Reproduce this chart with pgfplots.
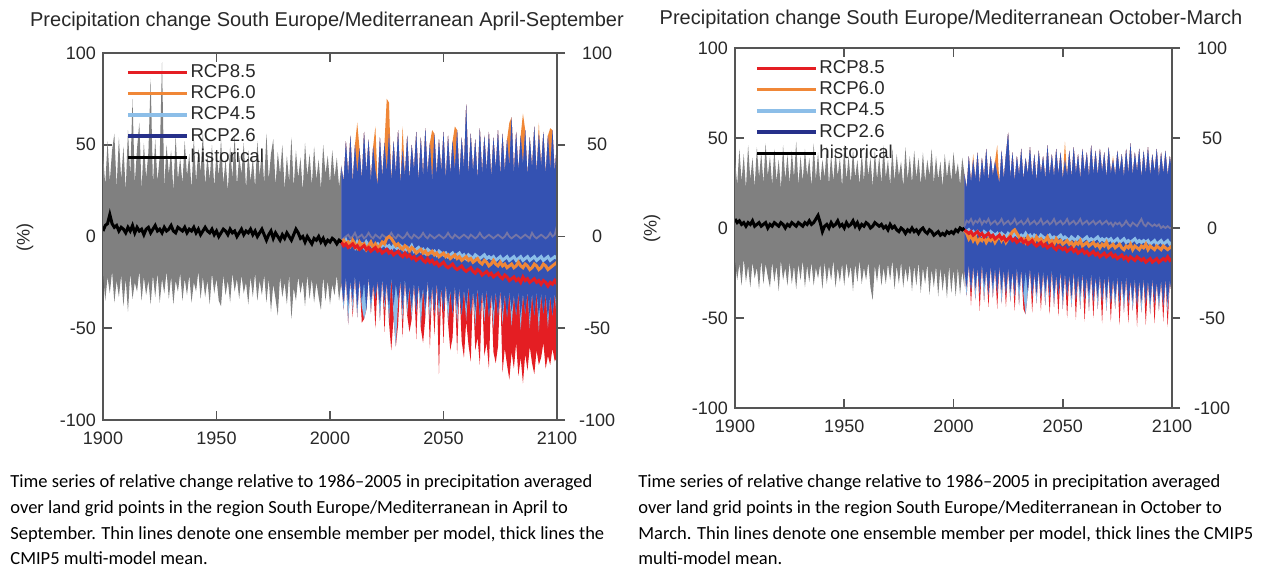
\documentclass[border=0pt]{standalone}
\usepackage{fontspec}
\setmainfont{Liberation Sans}
\newfontfamily\capfont{Carlito}
\usepackage{pgfplots}
\pgfplotsset{compat=1.18}
\usepackage{pgfplotstable}
\usepgfplotslibrary{fillbetween}

\definecolor{hgray}{RGB}{128,128,128}
\definecolor{rcpb}{RGB}{52,82,178}
\definecolor{rcpn}{RGB}{38,48,138}
\definecolor{rcpl}{RGB}{140,190,232}
\definecolor{rcpo}{RGB}{240,135,55}
\definecolor{rcpr}{RGB}{228,30,35}
\definecolor{axg}{RGB}{85,85,85}
\definecolor{txt}{RGB}{40,40,40}
\definecolor{mtf}{RGB}{118,118,165}

% ---------------- April-September (left) ----------------
\pgfplotstableread{
yr up lo m
1900 45 -20 3
1901 28 -35 6
1902 52 -22 7
1903 30 -31 12
1904 47 -19 7
1905 56 -36 5
1906 27 -24 6
1907 54 -33 3
1908 31 -21 5
1909 49 -38 4
1910 25 -23 2
1911 58 -41 5
1912 33 -20 3
1913 75 -34 6
1914 29 -25 2
1915 48 -30 5
1916 62 -19 3
1917 26 -35 4
1918 51 -22 1
1919 32 -32 4
1920 46 -24 5
1921 86 -37 2
1922 28 -21 4
1923 53 -33 6
1924 30 -20 3
1925 44 -36 4
1926 95 -23 2
1927 27 -31 5
1928 50 -19 3
1929 34 -34 4
1930 47 -22 6
1931 25 -37 3
1932 55 -24 2
1933 31 -30 5
1934 43 -20 4
1935 29 -35 3
1936 52 -23 5
1937 33 -32 2
1938 45 -21 4
1939 26 -36 3
1940 54 -25 5
1941 30 -30 2
1942 48 -19 4
1943 35 -34 1
1944 57 -22 3
1945 28 -33 5
1946 44 -24 3
1947 31 -37 2
1948 50 -20 4
1949 27 -31 1
1950 46 -23 3
1951 33 -35 0
1952 53 -38 2
1953 29 -21 4
1954 42 -32 3
1955 25 -24 1
1956 49 -36 4
1957 32 -20 2
1958 55 -30 3
1959 28 -23 0
1960 44 -34 2
1961 34 -21 4
1962 51 -31 1
1963 26 -25 3
1964 47 -37 2
1965 30 -22 4
1966 43 -33 1
1967 27 -20 3
1968 52 -35 0
1969 33 -24 2
1970 48 -32 4
1971 29 -21 1
1972 56 -36 -2
1973 31 -23 1
1974 45 -41 3
1975 53 -26 -1
1976 28 -34 2
1977 46 -43 0
1978 34 -22 -2
1979 50 -33 1
1980 26 -25 -1
1981 44 -37 2
1982 30 -21 0
1983 54 -45 -2
1984 27 -28 1
1985 47 -35 4
1986 32 -22 2
1987 43 -31 -1
1988 25 -24 0
1989 51 -38 -3
1990 33 -21 0
1991 45 -34 -2
1992 28 -23 -4
1993 49 -36 -1
1994 31 -25 -2
1995 42 -33 0
1996 26 -40 -3
1997 50 -22 -1
1998 34 -35 -4
1999 44 -24 -2
2000 29 -37 -3
2001 47 -26 -1
2002 32 -32 -2
2003 43 -21 -4
2004 27 -35 -2
2005 39 -25 -3
}\histL

\pgfplotstableread{
yr up bup blo llo rlo m26 m45 m60 m85
2005 38 38 -25 -25 -25 -2 -3 -3 -3
2006 30 30 -36 -40 -40 -1 -4 -2 -5
2007 52 52 -22 -22 -22 0 -2 -4 -4
2008 33 33 -38 -48 -48 1 -5 -3 -6
2009 55 55 -24 -24 -24 -1 -3 -5 -5
2010 29 29 -35 -41 -44 0 -4 -2 -4
2011 50 50 -21 -21 -21 2 -6 -4 -6
2012 62 34 -39 -44 -44 -1 -3 -6 -5
2013 48 48 -23 -23 -23 0 -5 -3 -7
2014 31 31 -36 -38 -47 1 -4 -5 -6
2015 57 57 -25 -45 -45 -1 -6 -4 -5
2016 35 35 -40 -40 -40 0 -3 -7 -7
2017 53 53 -22 -22 -22 2 -5 -5 -6
2018 30 30 -37 -42 -42 0 -4 -3 -8
2019 49 49 -26 -26 -26 -1 -6 -6 -7
2020 60 36 -34 -34 -50 1 -5 -4 -6
2021 28 28 -24 -24 -24 0 -4 -6 -8
2022 54 54 -39 -46 -46 -1 -6 -5 -7
2023 32 32 -23 -23 -23 1 -5 -3 -9
2024 51 51 -36 -40 -52 0 -4 -4 -8
2025 75 35 -25 -25 -25 -1 -6 -1 -7
2026 73 56 -41 -47 -47 0 -5 0 -9
2027 30 30 -22 -22 -62 2 -7 -1 -8
2028 52 52 -38 -44 -44 0 -5 -3 -10
2029 34 34 -26 -60 -60 -1 -6 -5 -9
2030 58 58 -35 -35 -48 1 -7 -4 -8
2031 29 29 -24 -24 -24 0 -5 -6 -10
2032 60 47 -40 -46 -55 -1 -6 -7 -11
2033 33 33 -23 -23 -23 0 -8 -5 -9
2034 55 55 -37 -43 -43 2 -6 -6 -11
2035 31 31 -27 -27 -52 0 -7 -8 -10
2036 50 50 -39 -45 -45 -1 -5 -6 -12
2037 36 36 -25 -25 -25 1 -8 -7 -11
2038 57 57 -41 -41 -56 0 -7 -9 -13
2039 30 30 -26 -26 -26 -1 -6 -8 -12
2040 54 54 -36 -50 -50 0 -8 -7 -11
2041 32 32 -28 -28 -58 2 -7 -9 -13
2042 59 59 -40 -44 -44 0 -9 -8 -14
2043 34 34 -24 -24 -24 -1 -7 -10 -12
2044 51 51 -38 -46 -61 1 -8 -9 -14
2045 58 30 -27 -27 -27 0 -9 -8 -13
2046 56 56 -42 -42 -54 -1 -8 -10 -15
2047 33 33 -25 -25 -25 0 -10 -9 -14
2048 53 53 -39 -45 -75 1 -8 -11 -16
2049 35 35 -28 -28 -28 0 -9 -10 -15
2050 57 57 -41 -41 -58 -1 -10 -9 -14
2051 31 31 -26 -26 -26 0 -9 -11 -16
2052 55 55 -38 -47 -47 2 -11 -10 -17
2053 34 34 -29 -29 -62 0 -10 -12 -16
2054 52 52 -42 -42 -55 -1 -9 -11 -15
2055 60 36 -27 -27 -27 1 -11 -10 -17
2056 58 58 -40 -48 -64 0 -10 -12 -18
2057 32 32 -28 -28 -28 -1 -9 -11 -17
2058 54 54 -43 -43 -57 0 -11 -13 -16
2059 37 37 -29 -29 -66 1 -10 -12 -18
2060 72 72 -39 -46 -46 0 -12 -11 -19
2061 33 33 -27 -27 -59 -1 -10 -13 -18
2062 56 56 -42 -42 -68 1 -11 -12 -17
2063 35 35 -30 -30 -30 0 -12 -14 -19
2064 53 53 -41 -49 -62 -1 -10 -13 -20
2065 31 31 -28 -28 -55 0 -11 -12 -18
2066 59 59 -43 -43 -70 2 -12 -14 -19
2067 34 34 -30 -30 -30 0 -11 -15 -21
2068 55 55 -40 -47 -65 -1 -10 -13 -20
2069 36 36 -29 -29 -58 0 -12 -14 -19
2070 57 57 -44 -44 -72 1 -11 -16 -21
2071 32 32 -31 -31 -31 0 -12 -15 -20
2072 54 54 -41 -50 -63 -1 -11 -13 -22
2073 37 37 -30 -30 -69 0 -13 -15 -21
2074 58 58 -43 -43 -60 1 -12 -16 -20
2075 33 33 -29 -29 -29 0 -11 -14 -22
2076 56 56 -42 -48 -74 -1 -13 -16 -23
2077 35 35 -31 -31 -61 0 -12 -15 -21
2078 53 53 -44 -44 -70 2 -11 -17 -22
2079 62 38 -30 -30 -78 0 -13 -16 -24
2080 65 65 -41 -49 -63 -1 -12 -15 -23
2081 34 34 -32 -32 -72 0 -11 -17 -22
2082 57 57 -43 -43 -58 1 -13 -16 -24
2083 36 36 -30 -30 -76 0 -12 -14 -23
2084 55 55 -44 -51 -66 -1 -11 -16 -25
2085 67 39 -31 -31 -80 0 -13 -17 -22
2086 58 58 -42 -42 -64 1 -12 -15 -24
2087 33 33 -30 -30 -73 0 -11 -16 -23
2088 54 54 -45 -50 -60 -1 -13 -18 -25
2089 37 37 -31 -31 -69 2 -12 -17 -24
2090 60 60 -43 -43 -75 0 -11 -15 -23
2091 35 35 -30 -30 -62 -1 -13 -16 -25
2092 62 56 -44 -52 -70 0 -12 -18 -24
2093 38 38 -31 -31 -66 1 -11 -17 -26
2094 57 57 -42 -42 -58 0 -13 -15 -24
2095 34 34 -31 -31 -72 -1 -12 -16 -25
2096 55 55 -45 -50 -65 0 -11 -18 -27
2097 59 36 -32 -32 -70 2 -13 -17 -25
2098 58 58 -43 -43 -61 0 -12 -16 -26
2099 35 35 -31 -31 -68 1 -11 -15 -24
2100 52 52 -40 -46 -66 6 -12 -14 -26
}\futL

% ---------------- October-March (right) ----------------
\pgfplotstableread{
yr up lo m
1900 38 -18 5
1901 24 -29 3
1902 44 -20 4
1903 26 -32 2
1904 41 -17 3
1905 22 -30 1
1906 46 -21 3
1907 27 -33 2
1908 39 -19 4
1909 23 -28 1
1910 45 -22 2
1911 28 -34 3
1912 42 -18 1
1913 25 -31 2
1914 47 -20 3
1915 29 -27 0
1916 40 -33 2
1917 24 -19 1
1918 44 -30 3
1919 26 -21 2
1920 38 -35 1
1921 22 -18 3
1922 46 -29 2
1923 27 -22 0
1924 41 -32 2
1925 25 -19 1
1926 43 -31 3
1927 28 -21 2
1928 48 -34 1
1929 24 -20 3
1930 40 -29 2
1931 26 -18 1
1932 44 -33 3
1933 29 -21 2
1934 39 -30 4
1935 23 -19 2
1936 47 -32 3
1937 27 -22 5
1938 42 -28 7
1939 25 -20 3
1940 38 -34 -2
1941 28 -19 1
1942 45 -31 2
1943 24 -21 0
1944 41 -29 3
1945 26 -18 1
1946 43 -33 2
1947 29 -22 4
1948 39 -30 1
1949 23 -20 2
1950 46 -32 0
1951 27 -19 3
1952 40 -28 1
1953 25 -21 2
1954 44 -35 4
1955 28 -20 1
1956 38 -30 3
1957 24 -18 0
1958 42 -31 2
1959 26 -22 1
1960 45 -29 3
1961 29 -19 2
1962 39 -33 0
1963 23 -40 1
1964 43 -21 3
1965 27 -30 2
1966 40 -19 1
1967 25 -32 2
1968 46 -22 0
1969 28 -31 1
1970 38 -20 -1
1971 24 -29 2
1972 44 -18 0
1973 26 -34 1
1974 41 -21 -1
1975 29 -31 -2
1976 37 -19 0
1977 23 -33 -1
1978 45 -22 -3
1979 27 -30 -1
1980 40 -20 -2
1981 25 -35 0
1982 43 -21 -2
1983 28 -32 -1
1984 39 -19 -3
1985 24 -36 -1
1986 42 -22 0
1987 26 -31 -2
1988 38 -20 -3
1989 29 -37 -1
1990 44 -23 -2
1991 25 -33 -4
1992 40 -21 -3
1993 27 -38 -2
1994 37 -22 -4
1995 23 -35 -3
1996 41 -24 -4
1997 28 -39 -2
1998 38 -21 -3
1999 26 -36 -2
2000 42 -23 -3
2001 29 -38 -1
2002 36 -22 -2
2003 24 -37 0
2004 39 -24 -1
2005 30 -33 0
}\histR

\pgfplotstableread{
yr up bup blo llo rlo m26 m45 m60 m85
2005 30 30 -24 -24 -24 1 -1 -1 -1
2006 22 22 -33 -38 -38 4 -2 -3 -2
2007 40 40 -20 -20 -20 3 -1 -6 -3
2008 25 25 -35 -35 -43 5 -3 -4 -2
2009 41 38 -21 -21 -21 2 -2 -7 -4
2010 27 27 -34 -40 -40 4 -4 -5 -3
2011 42 42 -22 -22 -22 3 -2 -8 -2
2012 24 24 -36 -36 -46 5 -3 -6 -4
2013 39 39 -20 -20 -20 2 -4 -7 -3
2014 28 28 -33 -41 -41 4 -2 -5 -5
2015 44 44 -23 -23 -23 3 -3 -8 -4
2016 26 26 -37 -37 -44 5 -4 -6 -3
2017 40 40 -21 -21 -21 2 -2 -7 -5
2018 29 29 -34 -39 -39 3 -3 -5 -4
2019 37 37 -22 -22 -22 4 -4 -8 -6
2020 46 30 -36 -36 -45 2 -3 -6 -5
2021 25 25 -21 -21 -21 3 -5 -4 -4
2022 43 43 -35 -42 -42 5 -3 -7 -6
2023 27 27 -23 -23 -23 2 -4 -5 -5
2024 41 41 -37 -37 -44 3 -5 -8 -7
2025 53 53 -22 -22 -22 4 -3 -6 -6
2026 28 28 -36 -41 -41 2 -4 -4 -5
2027 42 42 -24 -24 -24 3 -5 -2 -7
2028 26 26 -38 -38 -46 5 -3 -1 -6
2029 40 40 -22 -22 -22 2 -4 -3 -8
2030 29 29 -35 -43 -43 3 -5 -5 -7
2031 44 44 -23 -23 -23 4 -4 -7 -6
2032 27 27 -37 -37 -45 2 -5 -6 -8
2033 39 39 -24 -48 -48 3 -3 -8 -7
2034 30 30 -36 -36 -36 5 -5 -5 -9
2035 45 45 -22 -22 -22 2 -4 -7 -8
2036 28 28 -38 -38 -47 3 -6 -6 -7
2037 41 41 -25 -25 -25 4 -4 -8 -9
2038 26 26 -37 -42 -42 2 -5 -5 -10
2039 43 43 -23 -23 -23 3 -6 -7 -9
2040 30 30 -39 -39 -46 5 -4 -6 -8
2041 40 40 -24 -24 -24 2 -5 -8 -10
2042 27 27 -36 -43 -43 3 -6 -7 -9
2043 46 46 -25 -25 -25 4 -5 -5 -11
2044 29 29 -38 -38 -48 2 -4 -8 -10
2045 41 41 -23 -23 -23 3 -6 -7 -9
2046 28 28 -39 -44 -44 5 -5 -9 -11
2047 44 44 -26 -26 -26 2 -6 -6 -12
2048 30 30 -37 -37 -49 3 -5 -8 -10
2049 42 42 -24 -24 -24 4 -4 -7 -11
2050 27 27 -40 -45 -45 2 -6 -9 -12
2051 48 38 -25 -25 -25 3 -5 -8 -11
2052 29 29 -38 -38 -50 5 -6 -7 -13
2053 43 43 -26 -26 -26 2 -7 -9 -12
2054 28 28 -39 -44 -44 3 -5 -8 -11
2055 45 45 -24 -24 -24 4 -6 -10 -13
2056 30 30 -40 -40 -51 2 -7 -8 -12
2057 41 41 -26 -26 -26 3 -5 -9 -14
2058 27 27 -38 -45 -45 5 -6 -7 -13
2059 44 44 -25 -25 -25 2 -7 -10 -12
2060 31 31 -40 -40 -52 3 -6 -9 -14
2061 42 42 -27 -27 -27 4 -5 -8 -13
2062 28 28 -39 -46 -46 2 -7 -10 -15
2063 46 46 -25 -25 -25 3 -6 -9 -14
2064 30 30 -41 -41 -50 4 -7 -8 -13
2065 43 43 -27 -27 -27 2 -6 -10 -15
2066 29 29 -39 -45 -45 3 -5 -9 -14
2067 44 44 -26 -26 -26 4 -7 -11 -16
2068 31 31 -41 -41 -53 2 -6 -9 -15
2069 42 42 -27 -27 -27 3 -7 -10 -14
2070 28 28 -40 -46 -46 4 -6 -8 -16
2071 45 45 -26 -26 -26 2 -7 -11 -15
2072 30 30 -42 -42 -52 3 -6 -10 -14
2073 40 38 -28 -28 -28 1 -8 -9 -16
2074 29 29 -40 -45 -45 3 -7 -11 -15
2075 43 43 -27 -27 -27 2 -6 -10 -17
2076 31 31 -42 -42 -54 3 -8 -9 -16
2077 41 41 -28 -28 -28 1 -7 -11 -15
2078 28 28 -41 -47 -47 2 -6 -12 -17
2079 44 44 -27 -27 -27 4 -8 -10 -16
2080 30 30 -42 -42 -53 2 -7 -11 -18
2081 47 47 -29 -29 -29 1 -8 -9 -16
2082 29 29 -41 -46 -46 3 -7 -12 -17
2083 42 42 -28 -28 -28 2 -6 -10 -18
2084 31 31 -43 -43 -55 1 -8 -11 -16
2085 44 44 -29 -29 -29 3 -7 -12 -17
2086 28 28 -41 -47 -47 5 -8 -10 -18
2087 43 43 -28 -28 -28 2 -7 -11 -17
2088 30 30 -42 -42 -54 1 -8 -9 -19
2089 45 45 -29 -29 -29 3 -7 -12 -18
2090 29 29 -43 -48 -48 2 -9 -10 -17
2091 41 41 -28 -28 -28 1 -8 -11 -19
2092 31 31 -42 -42 -53 2 -7 -12 -18
2093 44 44 -30 -30 -30 1 -9 -10 -17
2094 28 28 -41 -46 -46 2 -8 -11 -19
2095 42 42 -29 -29 -29 0 -7 -12 -18
2096 30 30 -43 -43 -52 1 -9 -10 -17
2097 43 43 -28 -28 -28 0 -8 -11 -18
2098 29 29 -42 -47 -55 1 -7 -12 -16
2099 40 40 -29 -29 -29 0 -9 -11 -18
2100 31 31 -38 -38 -38 0 -8 -10 -17
}\futR

\pgfplotsset{
  panel/.style={
    scale only axis, anchor=south west,
    xmin=1900, xmax=2100, ymin=-100, ymax=100,
    axis line style={axg, line width=0.8pt},
    every tick/.style={axg, line width=0.8pt},
    major tick length=4.5pt, tick align=inside,
    xtick={1900,1950,2000,2050,2100},
    xticklabels={1900,1950,2000,2050,2100},
    xtick pos=both,
    ytick={-100,-50,0,50,100},
    yticklabels={-100,-50,0,50,100},
    ytick pos=left,
    ticklabel style={font=\fontsize{9}{10}\selectfont, text=txt},
    xticklabel style={yshift=-2.5pt},
    legend style={draw=none, fill=none, anchor=north west,
      font=\fontsize{9.3}{9.3}\selectfont, text=txt,
      row sep=0.6pt, inner sep=0pt,
      nodes={inner sep=1pt},
      every odd column/.append style={column sep=4.5pt}},
    legend cell align=left,
    legend image code/.code={\draw[##1, line width=1.7pt] (0pt,0pt) -- (29.5pt,0pt);},
  },
  rightax/.style={
    scale only axis, anchor=south west,
    xmin=1900, xmax=2100, ymin=-100, ymax=100,
    hide x axis, axis y line*=right,
    axis line style={axg, line width=0.8pt},
    every tick/.style={axg, line width=0.8pt},
    major tick length=4pt, tick align=outside,
    ytick={-100,-50,0,50,100},
    yticklabels={-100,-50,0,50,100},
    yticklabel style={font=\fontsize{9}{10}\selectfont, text=txt, text width=20pt, align=center, xshift=2.5pt},
  },
}

\newcommand{\drawpanel}[3]{%
  \addplot[name path=#3hU, draw=none, forget plot] table[x=yr,y=up]{#1};
  \addplot[name path=#3hL, draw=none, forget plot] table[x=yr,y=lo]{#1};
  \addplot[hgray, forget plot] fill between[of=#3hU and #3hL];
  \addplot[name path=#3fU, draw=none, forget plot] table[x=yr,y=up]{#2};
  \addplot[name path=#3fB, draw=none, forget plot] table[x=yr,y=bup]{#2};
  \addplot[name path=#3fBL, draw=none, forget plot] table[x=yr,y=blo]{#2};
  \addplot[name path=#3fLL, draw=none, forget plot] table[x=yr,y=llo]{#2};
  \addplot[name path=#3fRL, draw=none, forget plot] table[x=yr,y=rlo]{#2};
  \addplot[rcpo, forget plot] fill between[of=#3fU and #3fBL];
  \addplot[rcpr, forget plot] fill between[of=#3fB and #3fRL];
  \addplot[rcpl, forget plot] fill between[of=#3fB and #3fLL];
  \addplot[rcpb, forget plot] fill between[of=#3fB and #3fBL];
  \addplot[mtf, line width=0.9pt, forget plot] table[x=yr,y=m26]{#2};
  \addplot[rcpl, line width=1.5pt, forget plot] table[x=yr,y=m45]{#2};
  \addplot[rcpo, line width=1.5pt, forget plot] table[x=yr,y=m60]{#2};
  \addplot[rcpr, line width=1.5pt, forget plot] table[x=yr,y=m85]{#2};
  \addplot[black, line width=1.5pt, forget plot] table[x=yr,y=m]{#1};
  \addlegendimage{rcpr}\addlegendentry{RCP8.5}
  \addlegendimage{rcpo}\addlegendentry{RCP6.0}
  \addlegendimage{rcpl}\addlegendentry{RCP4.5}
  \addlegendimage{rcpn}\addlegendentry{RCP2.6}
  \addlegendimage{black}\addlegendentry{historical}
}

\begin{document}
\begin{tikzpicture}
\path (0pt,0pt) rectangle (633.5pt,-284.5pt);

% left panel
\begin{axis}[panel, at={(51.5pt,-210pt)}, width=227pt, height=183.5pt,
  legend style={at={(0.05,0.975)}}]
  \drawpanel{\histL}{\futL}{A}
\end{axis}
\begin{axis}[rightax, at={(51.5pt,-210pt)}, width=227pt, height=183.5pt]
  \addplot[draw=none] coordinates {(1950,0)};
\end{axis}

% right panel
\begin{axis}[panel, at={(367.5pt,-204pt)}, width=218.5pt, height=180pt,
  legend style={at={(0.045,0.972)}}]
  \drawpanel{\histR}{\futR}{B}
\end{axis}
\begin{axis}[rightax, at={(367.5pt,-204pt)}, width=218.5pt, height=180pt]
  \addplot[draw=none] coordinates {(1950,0)};
\end{axis}

% titles
\node[font=\fontsize{10}{12}\selectfont, text=txt] at (163.5pt,-10.5pt) {Precipitation change South Europe/Mediterranean April-September};
\node[font=\fontsize{10}{12}\selectfont, text=txt] at (475.5pt,-9.5pt) {Precipitation change South Europe/Mediterranean October-March};
\node[font=\fontsize{9}{10}\selectfont, text=txt, rotate=90] at (12.5pt,-118.5pt) {(\%)};
\node[font=\fontsize{9}{10}\selectfont, text=txt, rotate=90] at (326pt,-114pt) {(\%)};

% captions
\begin{scope}[every node/.style={anchor=base west, inner sep=0pt, font=\capfont\fontsize{9.25}{11}\selectfont, text=black}]
\node at (5pt,-243.5pt) {Time series of relative change relative to 1986–2005 in precipitation averaged};
\node at (5pt,-256.5pt) {over land grid points in the region South Europe/Mediterranean in April to};
\node at (5pt,-269.5pt) {September. Thin lines denote one ensemble member per model, thick lines the};
\node at (5pt,-282pt) {CMIP5 multi-model mean.};
\node at (319pt,-243.5pt) {Time series of relative change relative to 1986–2005 in precipitation averaged};
\node at (319pt,-256.5pt) {over land grid points in the region South Europe/Mediterranean in October to};
\node at (319pt,-269.5pt) {March. Thin lines denote one ensemble member per model, thick lines the CMIP5};
\node at (319pt,-282pt) {multi-model mean.};
\end{scope}
\end{tikzpicture}
\end{document}
